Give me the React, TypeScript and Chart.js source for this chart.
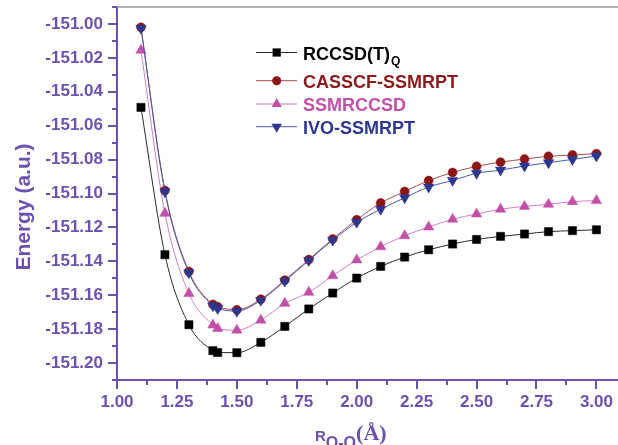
import React, { useEffect, useRef } from 'react';
import { Chart, registerables } from 'chart.js';

Chart.register(...registerables);

// ---- data ----
const R_OO = [1.1, 1.2, 1.3, 1.4, 1.42, 1.5, 1.6, 1.7, 1.8, 1.9, 2.0, 2.1, 2.2, 2.3, 2.4, 2.5, 2.6, 2.7, 2.8, 2.9, 3.0];
const RCCSD_T_Q = [-151.0492, -151.1361, -151.1774, -151.1927, -151.1938, -151.1939, -151.1878, -151.1784, -151.1681, -151.1587, -151.1499, -151.1430, -151.1375, -151.1332, -151.1298, -151.1271, -151.1253, -151.1239, -151.1225, -151.1219, -151.1214];
const CASSCF_SSMRPT = [-151.0020, -151.0982, -151.1460, -151.1654, -151.1668, -151.1686, -151.1624, -151.1511, -151.1390, -151.1268, -151.1155, -151.1056, -151.0988, -151.0924, -151.0876, -151.0840, -151.0815, -151.0797, -151.0781, -151.0773, -151.0765];
const SSMRCCSD = [-151.0155, -151.1117, -151.1590, -151.1776, -151.1796, -151.1806, -151.1747, -151.1648, -151.1583, -151.1485, -151.1392, -151.1314, -151.1249, -151.1198, -151.1152, -151.1121, -151.1093, -151.1076, -151.1064, -151.1048, -151.1042];
const IVO_SSMRPT = [-151.0025, -151.0990, -151.1468, -151.1662, -151.1678, -151.1694, -151.1630, -151.1517, -151.1395, -151.1275, -151.1170, -151.1093, -151.1025, -151.0962, -151.0923, -151.0881, -151.0862, -151.0838, -151.0818, -151.0799, -151.0779];

const X_MIN = 1.0;
const X_MAX = 3.09;
const Y_MIN = -151.21;
const Y_MAX = -150.99;

const PURPLE = '#6b52b0';
const SANS = '"Liberation Sans", Arial, sans-serif';
const SERIF = '"Liberation Serif", "Times New Roman", serif';

type SeriesStyle = {
  label: string;
  sub?: string;
  values: number[];
  marker: string;
  rotation: number;
  radius: number;
  markerColor: string;
  lineColor: string;
  textColor: string;
  legendY: number;
  order: number;
};

const SERIES: SeriesStyle[] = [
  { label: 'RCCSD(T)', sub: 'Q', values: RCCSD_T_Q, marker: 'rect', rotation: 0, radius: 5.8, markerColor: '#000000', lineColor: '#2a2a2a', textColor: '#000000', legendY: 52.5, order: 3 },
  { label: 'CASSCF-SSMRPT', values: CASSCF_SSMRPT, marker: 'circle', rotation: 0, radius: 4.5, markerColor: '#8c1616', lineColor: '#a85050', textColor: '#8c1a1a', legendY: 80.7, order: 1 },
  { label: 'SSMRCCSD', values: SSMRCCSD, marker: 'triangle', rotation: 0, radius: 6, markerColor: '#c24fa8', lineColor: '#d47cc6', textColor: '#c24fa8', legendY: 104, order: 2 },
  { label: 'IVO-SSMRPT', values: IVO_SSMRPT, marker: 'triangle', rotation: 180, radius: 6, markerColor: '#2b3791', lineColor: '#4c58ad', textColor: '#2b3791', legendY: 126.7, order: 0 },
];

function drawMarker(ctx: CanvasRenderingContext2D, style: string, rotation: number, x: number, y: number, r: number, color: string) {
  ctx.save();
  ctx.fillStyle = color;
  ctx.beginPath();
  if (style === 'rect') {
    const s = r * Math.SQRT1_2;
    ctx.rect(x - s, y - s, 2 * s, 2 * s);
  } else if (style === 'circle') {
    ctx.arc(x, y, r, 0, Math.PI * 2);
  } else {
    const rot = (rotation * Math.PI) / 180;
    for (let i = 0; i < 3; i++) {
      const a = rot + (i * 2 * Math.PI) / 3;
      const px = x + Math.sin(a) * r;
      const py = y - Math.cos(a) * r;
      if (i === 0) ctx.moveTo(px, py);
      else ctx.lineTo(px, py);
    }
    ctx.closePath();
  }
  ctx.fill();
  ctx.restore();
}

const decorPlugin = {
  id: 'decor',
  afterDraw(chart: any) {
    const ctx: CanvasRenderingContext2D = chart.ctx;
    const area = chart.chartArea;
    const xs = chart.scales.x;
    const ys = chart.scales.y;
    ctx.save();

    // top frame line
    ctx.strokeStyle = '#9a9a9a';
    ctx.lineWidth = 1.5;
    ctx.beginPath();
    ctx.moveTo(area.left, area.top);
    ctx.lineTo(chart.width, area.top);
    ctx.stroke();

    // tick marks
    ctx.strokeStyle = PURPLE;
    ctx.lineWidth = 2;
    for (const t of xs.ticks) {
      const px = Math.round(xs.getPixelForValue(t.value));
      const major = t.label !== '';
      ctx.beginPath();
      ctx.moveTo(px, area.bottom);
      ctx.lineTo(px, area.bottom + (major ? 9 : 5));
      ctx.stroke();
    }
    for (const t of ys.ticks) {
      const py = Math.round(ys.getPixelForValue(t.value));
      const major = t.label !== '';
      ctx.beginPath();
      ctx.moveTo(area.left, py);
      ctx.lineTo(area.left - (major ? 9 : 5), py);
      ctx.stroke();
    }

    // y-axis title
    ctx.fillStyle = PURPLE;
    ctx.save();
    ctx.translate(30, 207);
    ctx.rotate(-Math.PI / 2);
    ctx.font = `bold 21px ${SANS}`;
    ctx.textAlign = 'center';
    ctx.textBaseline = 'alphabetic';
    ctx.fillText('Energy (a.u.)', 0, 0);
    ctx.restore();

    // x-axis title: R_{O-O}(Å)
    ctx.textAlign = 'left';
    ctx.textBaseline = 'alphabetic';
    ctx.font = `bold 15px ${SANS}`;
    ctx.fillText('R', 315, 441);
    const rW = ctx.measureText('R').width;
    ctx.font = `bold 16px ${SANS}`;
    ctx.fillText('O-O', 315 + rW, 448);
    const ooW = ctx.measureText('O-O').width;
    ctx.font = `bold 22px ${SERIF}`;
    ctx.fillText('(Å)', 315 + rW + ooW, 440);

    // legend
    for (const s of SERIES) {
      const y = s.legendY;
      ctx.strokeStyle = s.lineColor;
      ctx.lineWidth = 1;
      ctx.beginPath();
      ctx.moveTo(256, y);
      ctx.lineTo(297, y);
      ctx.stroke();
      drawMarker(ctx, s.marker, s.rotation, 276.7, y, s.radius, s.markerColor);
      ctx.fillStyle = s.textColor;
      ctx.font = `bold 18px ${SANS}`;
      ctx.textAlign = 'left';
      ctx.textBaseline = 'alphabetic';
      ctx.fillText(s.label, 303, y + 7);
      if (s.sub) {
        const w = ctx.measureText(s.label).width;
        ctx.font = `bold 12px ${SANS}`;
        ctx.fillText(s.sub, 303 + w + 1, y + 12.5);
      }
    }
    ctx.restore();
  },
};

export default function App() {
  const canvasRef = useRef<HTMLCanvasElement | null>(null);

  useEffect(() => {
    if (!canvasRef.current) return;
    const datasets = SERIES.map((s) => ({
      label: s.sub ? s.label + s.sub : s.label,
      data: R_OO.map((x, i) => ({ x, y: s.values[i] })),
      borderColor: s.lineColor,
      borderWidth: 1,
      backgroundColor: s.markerColor,
      pointStyle: s.marker,
      pointRotation: s.rotation,
      pointRadius: s.radius,
      pointBackgroundColor: s.markerColor,
      pointBorderColor: s.markerColor,
      pointBorderWidth: 0.5,
      cubicInterpolationMode: 'monotone' as const,
      fill: false,
      clip: false,
      order: s.order,
    }));

    const chart = new Chart(canvasRef.current, {
      type: 'line',
      data: { datasets },
      plugins: [decorPlugin],
      options: {
        animation: false,
        responsive: false,
        maintainAspectRatio: false,
        layout: { autoPadding: false, padding: { top: 7, right: 0, left: 0, bottom: 0 } },
        plugins: {
          legend: { display: false },
          title: { display: false },
          tooltip: { enabled: false },
        },
        scales: {
          x: {
            type: 'linear',
            min: X_MIN,
            max: X_MAX,
            grid: { display: false, drawTicks: false },
            border: { display: true, color: PURPLE, width: 2 },
            ticks: {
              stepSize: 0.125,
              includeBounds: false,
              autoSkip: false,
              maxRotation: 0,
              minRotation: 0,
              padding: 12,
              color: PURPLE,
              font: { family: SANS, size: 17, weight: 'bold' },
              callback: (v: any) => {
                const n = Number(v);
                return Math.round(n * 8) % 2 === 0 ? n.toFixed(2) : '';
              },
            },
            afterFit: (scale: any) => {
              scale.height = 65;
              scale.paddingLeft = 0;
              scale.paddingRight = 0;
            },
          },
          y: {
            type: 'linear',
            min: Y_MIN,
            max: Y_MAX,
            grid: { display: false, drawTicks: false },
            border: { display: true, color: PURPLE, width: 2 },
            ticks: {
              stepSize: 0.01,
              includeBounds: false,
              autoSkip: false,
              padding: 14,
              color: PURPLE,
              font: { family: SANS, size: 17, weight: 'bold' },
              callback: (v: any) => {
                const n = Number(v);
                return Math.abs(Math.round(n * 100)) % 2 === 0 ? n.toFixed(2) : '';
              },
            },
            afterFit: (scale: any) => {
              scale.width = 117;
              scale.paddingTop = 0;
              scale.paddingBottom = 0;
            },
          },
        },
      } as any,
    });
    return () => chart.destroy();
  }, []);

  return (
    <div style={{ position: 'absolute', left: 0, top: 0, width: 618, height: 445, background: '#ffffff' }}>
      <canvas ref={canvasRef} width={618} height={445} style={{ display: 'block', width: 618, height: 445 }} />
    </div>
  );
}
